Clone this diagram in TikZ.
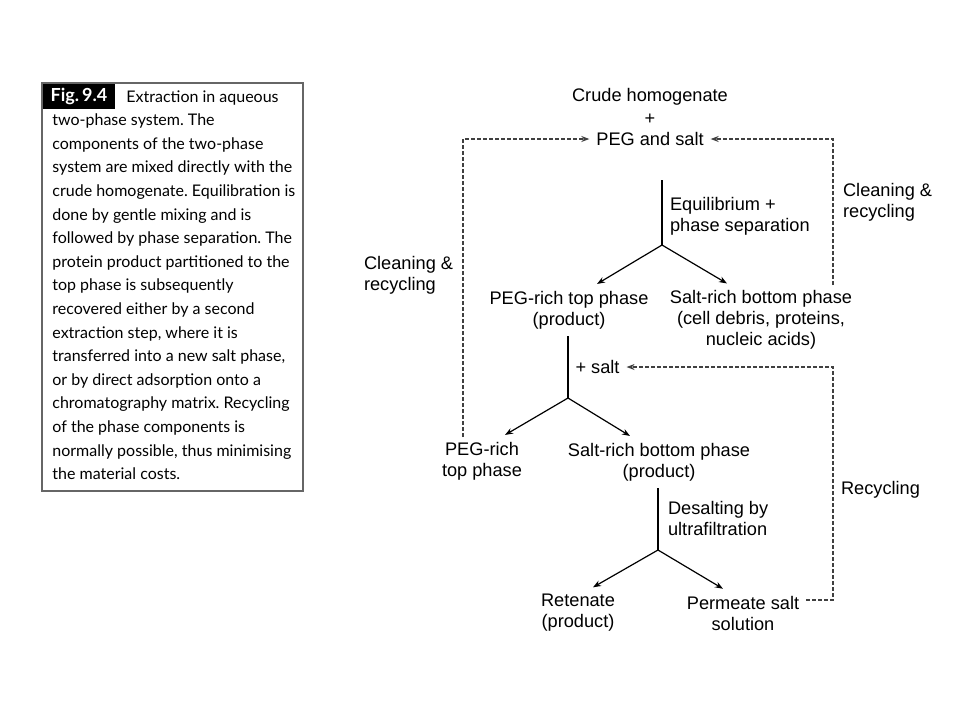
\documentclass[tikz,border=0pt]{standalone}
\usepackage{fontspec}
\setmainfont{Liberation Sans}
\newfontfamily\capfont{Lato}
\usetikzlibrary{arrows.meta,calc}
\frenchspacing

\begin{document}
\begin{tikzpicture}[x=0.5pt,y=-0.5pt,
    every node/.style={font=\fontsize{9.1}{10.5}\selectfont,align=center},
    stem/.style={line width=0.6pt},
    flow/.style={line width=0.6pt,-{Stealth[length=4pt,width=3pt]}},
    recycle/.style={line width=0.6pt,black!75,dash pattern=on 1.8pt off 1.2pt,
      -{Stealth[length=4pt,width=3pt]}},
    lbl/.style={anchor=west,align=left}]
  \useasboundingbox[fill=white] (0,0) rectangle (960,720);

  % Caption box
  \draw[black!60,line width=0.7pt] (42,83) rectangle (303,491);
  \node[fill=black,text=white,minimum width=36pt,minimum height=12.5pt,inner sep=0pt,
    font=\capfont\bfseries\fontsize{9}{10}\selectfont] (figlabel) at (79,96.5) {Fig.\,9.4};
  \node[anchor=north west,inner sep=0pt,align=left,
    font=\capfont\fontsize{8}{11.8}\selectfont] (caption) at (52,90)
    {\hspace*{37pt}Extraction in aqueous\\
     two-phase system. The\\
     components of the two-phase\\
     system are mixed directly with the\\
     crude homogenate. Equilibration is\\
     done by gentle mixing and is\\
     followed by phase separation. The\\
     protein product partitioned to the\\
     top phase is subsequently\\
     recovered either by a second\\
     extraction step, where it is\\
     transferred into a new salt phase,\\
     or by direct adsorption onto a\\
     chromatography matrix. Recycling\\
     of the phase components is\\
     normally possible, thus minimising\\
     the material costs.};

  % Starting mixture
  \node (crude) at (650,97) {Crude homogenate};
  \node (plus) at (650,119) {+};
  \node (pegsalt) at (650,139) {PEG and salt};

  % First extraction
  \node (pegtop1) at (569,310) {PEG-rich top phase\\(product)};
  \node (saltbot1) at (761,320) {Salt-rich bottom phase\\(cell debris, proteins,\\nucleic acids)};
  \node[lbl] (equil) at (663,216) {Equilibrium +\\phase separation};
  \coordinate (split1) at (662,245);
  \draw[stem] (split1) -- ++(0,-65);
  \draw[flow] (split1) -- ([xshift=14pt]pegtop1.north);
  \draw[flow] (split1) -- ([xshift=-17pt]saltbot1.north);

  % Second extraction
  \node (plussalt) at (597.5,367) {+ salt};
  \node (pegtop2) at (482,461) {PEG-rich\\top phase};
  \node (saltbot2) at (659,462) {Salt-rich bottom phase\\(product)};
  \coordinate (split2) at (568,398);
  \draw[stem] (pegtop1.south -| split2) -- (split2);
  \draw[flow] (split2) -- ([xshift=11.5pt]pegtop2.north);
  \draw[flow] (split2) -- ([xshift=-14.5pt]saltbot2.north);

  % Desalting
  \node[lbl] (desalt) at (661,518) {Desalting by\\ultrafiltration};
  \node (retenate) at (578,613) {Retenate\\(product)};
  \node (permeate) at (743,613) {Permeate salt\\solution};
  \coordinate (split3) at (658,550);
  \draw[stem] (saltbot2.south -| split3) -- (split3);
  \draw[flow] (split3) -- ([xshift=7.5pt]retenate.north);
  \draw[flow] (split3) -- ([xshift=-10pt]permeate.north);

  % Recycling loops
  \coordinate (lloop) at (463,437);
  \coordinate (rloop1) at (833,285);
  \coordinate (rloop2) at (833,600);
  \draw[recycle] (lloop) |- (pegsalt.west);
  \draw[recycle] (rloop1) |- (pegsalt.east);
  \draw[recycle] (permeate.east |- rloop2) -- (rloop2) |- (plussalt.east);
  \node[lbl] (cleanl) at (357,275) {Cleaning \&\\recycling};
  \node[lbl] (cleanr) at (836,202) {Cleaning \&\\recycling};
  \node[lbl] (recyc) at (834,490) {Recycling};
\end{tikzpicture}
\end{document}
